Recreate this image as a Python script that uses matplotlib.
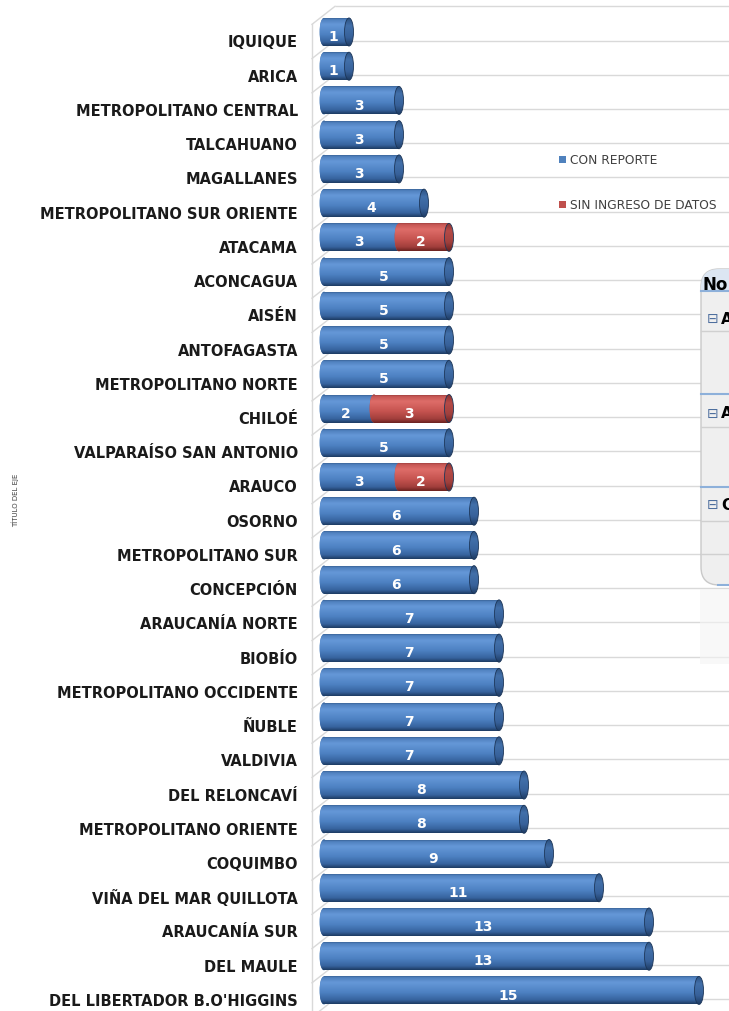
import matplotlib
matplotlib.use('Agg')
import matplotlib.pyplot as plt
import numpy as np
from matplotlib.patches import Ellipse, Rectangle, FancyBboxPatch
from matplotlib.colors import to_rgb

regions = ['IQUIQUE', 'ARICA', 'METROPOLITANO CENTRAL', 'TALCAHUANO', 'MAGALLANES',
           'METROPOLITANO SUR ORIENTE', 'ATACAMA', 'ACONCAGUA', 'AISÉN', 'ANTOFAGASTA',
           'METROPOLITANO NORTE', 'CHILOÉ', 'VALPARAÍSO SAN ANTONIO', 'ARAUCO', 'OSORNO',
           'METROPOLITANO SUR', 'CONCEPCIÓN', 'ARAUCANÍA NORTE', 'BIOBÍO',
           'METROPOLITANO OCCIDENTE', 'ÑUBLE', 'VALDIVIA', 'DEL RELONCAVÍ',
           'METROPOLITANO ORIENTE', 'COQUIMBO', 'VIÑA DEL MAR QUILLOTA', 'ARAUCANÍA SUR',
           'DEL MAULE', "DEL LIBERTADOR B.O'HIGGINS"]
con_reporte = [1, 1, 3, 3, 3, 4, 3, 5, 5, 5, 5, 2, 5, 3, 6, 6, 6, 7, 7, 7, 7, 7, 8, 8, 9, 11, 13, 13, 15]
sin_ingreso = [0, 0, 0, 0, 0, 0, 2, 0, 0, 0, 0, 3, 0, 2, 0, 0, 0, 0, 0, 0, 0, 0, 0, 0, 0, 0, 0, 0, 0]
series_names = ['CON REPORTE', 'SIN INGRESO DE DATOS']


def gradient(stops, n=64):
    pos = [s[0] for s in stops]
    cols = np.array([to_rgb(s[1]) for s in stops])
    t = np.linspace(0, 1, n)
    arr = np.stack([np.interp(t, pos, cols[:, k]) for k in range(3)], axis=1)
    return arr[:, None, :]


blue_body = gradient([(0, '#2F5583'), (0.08, '#4F80BE'), (0.25, '#6598D8'),
                      (0.6, '#4D81C2'), (0.86, '#37649F'), (1, '#1E3C64')])
red_body = gradient([(0, '#8E3735'), (0.08, '#C65754'), (0.25, '#DE6D69'),
                     (0.6, '#C5534F'), (0.86, '#A23F3C'), (1, '#6B2220')])
blue_cap = gradient([(0, '#2A4E7C'), (0.3, '#4270AA'), (0.7, '#37619A'), (1, '#1F3D66')])
red_cap = gradient([(0, '#832F2D'), (0.3, '#B64A47'), (0.7, '#A0403D'), (1, '#6B2220')])

n = len(regions)
ypos = np.arange(n)
xmin, xmax = -12.96, 16.2
ytop, ybot = -0.964, 28.6

fig = plt.figure(figsize=(7.29, 10.12), dpi=100)
ax = fig.add_axes([0, 0, 1, 1])
ax.axis('off')

# 3d-ish back wall and gridlines
grid_y = np.arange(-1, n) + 0.25
ax.hlines(grid_y, 0.44, xmax, color='#D9D9D9', lw=1, zorder=1)
for g in grid_y:
    ax.plot([-0.48, 0.44], [g + 0.526, g], color='#D9D9D9', lw=1, zorder=1)
ax.plot([-0.48, -0.48], [grid_y[0] + 0.526, ybot], color='#D9D9D9', lw=1, zorder=1)

h = 0.82
capw = 0.36
bars1 = ax.barh(ypos, con_reporte, height=h, color='#4F81BD', zorder=2)
bars2 = ax.barh(ypos, sin_ingreso, left=con_reporte, height=h, color='#C0504D', zorder=2)


def cylinder(rect, body, cap, last, z):
    x0, w = rect.get_x(), rect.get_width()
    y0, hh = rect.get_y(), rect.get_height()
    if w == 0:
        return
    yc = y0 + hh / 2
    im = ax.imshow(body, extent=[x0, x0 + w, y0 + hh, y0], aspect='auto',
                   zorder=z, interpolation='bilinear')
    im.set_clip_path(rect)
    e = Ellipse((x0, yc), capw, hh, facecolor=rect.get_facecolor(), edgecolor='none', zorder=z - 0.1)
    ax.add_patch(e)
    im2 = ax.imshow(body, extent=[x0 - capw / 2, x0 + capw / 2, y0 + hh, y0],
                    aspect='auto', zorder=z, interpolation='bilinear')
    im2.set_clip_path(e)
    if last:
        c = Ellipse((x0 + w, yc), capw, hh, facecolor='none', edgecolor='#1C3557',
                    lw=0.6, zorder=z + 1.5)
        ax.add_patch(c)
        im3 = ax.imshow(cap, extent=[x0 + w - capw / 2, x0 + w + capw / 2, y0 + hh, y0],
                        aspect='auto', zorder=z + 1, interpolation='bilinear')
        im3.set_clip_path(c)
    ax.text(x0 + w / 2 - 0.12, yc + 0.12, '%d' % w, color='white', fontsize=10,
            fontweight='bold', ha='center', va='center', zorder=8)


for i in range(n):
    cylinder(bars1.patches[i], blue_body, blue_cap, sin_ingreso[i] == 0, 3)
    cylinder(bars2.patches[i], red_body, red_cap, True, 5)
    ax.text(-1.04, i + 0.29, regions[i], ha='right', va='center', fontsize=10.5,
            fontweight='bold', color='#1A1A1A')

ax.set_xlim(xmin, xmax)
ax.set_ylim(ybot, ytop)

fig.text(15 / 729, 1 - 500 / 1012, 'TÍTULO DEL EJE', rotation=90, fontsize=5,
         ha='center', va='center', color='#404040')

# overlay in pixel coords: legend and the cut-off pivot panel
ov = fig.add_axes([0, 0, 1, 1], zorder=5)
ov.set_xlim(0, 729)
ov.set_ylim(1012, 0)
ov.axis('off')

for k, (name, col) in enumerate(zip(series_names, ['#4F81BD', '#C0504D'])):
    yy = 160 + 45 * k
    ov.add_patch(Rectangle((559, yy - 3.5), 7, 7, facecolor=col, edgecolor='none'))
    ov.text(570, yy, name, fontsize=8.8, color='#404040', va='center', ha='left')

ov.add_patch(Rectangle((700, 590), 40, 75, facecolor='#F4F4F4', edgecolor='none', alpha=0.6))
panel = FancyBboxPatch((701, 270), 80, 316, boxstyle='round,pad=0,rounding_size=18',
                       facecolor='#EFEFEF', edgecolor='#C9C9C9', lw=1)
ov.add_patch(panel)
head = Rectangle((701, 270), 40, 22, facecolor='#DCE6F2', edgecolor='none')
ov.add_patch(head)
head.set_clip_path(panel)
for yb in [292, 395, 488]:
    ov.plot([701, 729], [yb, yb], color='#8DB0DA', lw=1.5)
ov.plot([718, 729], [586, 586], color='#8DB0DA', lw=1.5)
for yg in [332, 428, 522, 555]:
    ov.plot([701, 729], [yg, yg], color='#D0D0D0', lw=1)
ov.text(703, 285, 'No', fontsize=12, fontweight='bold', color='black', va='center')
for yr, ch in [(319, 'A'), (414, 'A'), (505, 'C')]:
    ov.text(707, yr, '⊟', fontsize=10, color='#4E6F9E', va='center')
    ov.text(721, yr, ch, fontsize=11, fontweight='bold', color='black', va='center')

fig.savefig('out.png', dpi=100)
